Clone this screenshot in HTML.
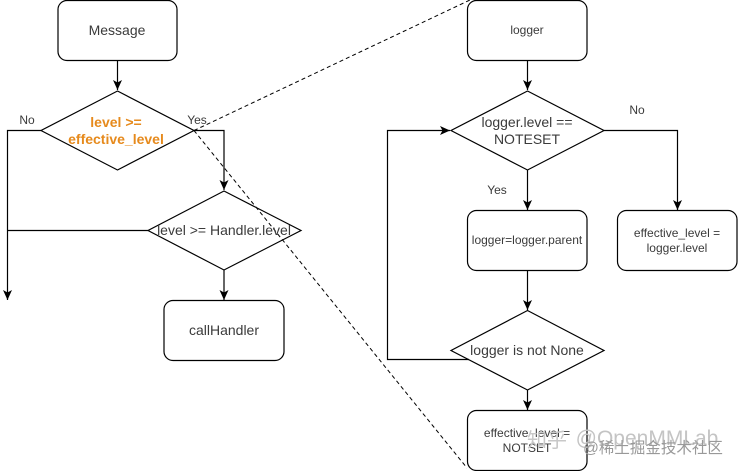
<!DOCTYPE html>
<html><head><meta charset="utf-8"><style>
html,body{margin:0;padding:0;background:#fff}
svg{display:block}
text{font-family:"Liberation Sans","Noto Sans CJK SC",sans-serif;fill:#3a3a3a;text-anchor:middle}
</style></head><body>
<svg width="738" height="471" viewBox="0 0 738 471" xmlns="http://www.w3.org/2000/svg">
<defs>
<marker id="a" markerWidth="12" markerHeight="12" refX="10" refY="5" orient="auto" markerUnits="userSpaceOnUse"><path d="M0 0.500L10 5L0 9.500L2.500 5Z" fill="#000"/></marker>
<filter id="b" filterUnits="userSpaceOnUse" x="0" y="0" width="738" height="471"><feGaussianBlur stdDeviation="0.3"/></filter>
</defs>
<g filter="url(#b)">
<g fill="none" stroke="#000" stroke-width="1.2">
<rect x="58" y="0.5" width="119" height="60" rx="9"/>
<rect x="164" y="300.5" width="120" height="60" rx="9"/>
<rect x="467.5" y="0.5" width="119.5" height="60" rx="9"/>
<rect x="467.5" y="210.5" width="119.5" height="60" rx="9"/>
<rect x="617.5" y="210.5" width="119.5" height="60" rx="9"/>
<rect x="467.5" y="410.5" width="119.5" height="60" rx="9"/>
<path d="M117.500 91L194 130.500L117.500 170L41 130.500Z"/>
<path d="M224 191L301 230.500L224 270L148 230.500Z"/>
<path d="M527.500 91L604 130.500L527.500 170L451 130.500Z"/>
<path d="M527.500 310.500L604 350.500L527.500 390L451 350.500Z"/>
<path d="M117.500 60.500V90" marker-end="url(#a)"/>
<path d="M194 130.500H224V190" marker-end="url(#a)"/>
<path d="M41 130.500H7.500V300" marker-end="url(#a)"/>
<path d="M148 230.500H7.500"/>
<path d="M224 270V300" marker-end="url(#a)"/>
<path d="M527.500 60.500V90" marker-end="url(#a)"/>
<path d="M527.500 170V210" marker-end="url(#a)"/>
<path d="M604 130.500H677.500V210" marker-end="url(#a)"/>
<path d="M527.500 270.500V310" marker-end="url(#a)"/>
<path d="M527.500 390V410" marker-end="url(#a)"/>
<path d="M469 359.500H387.500V130.500H450" marker-end="url(#a)"/>
<path d="M194 130.500L470 0" stroke-dasharray="4 3" stroke-width="1"/>
<path d="M194 130.500L467 468" stroke-dasharray="4 3" stroke-width="1"/>
</g>
<text x="117" y="35" font-size="14">Message</text>
<text x="27" y="124" font-size="12">No</text>
<text x="197" y="124" font-size="12">Yes</text>
<text x="116" y="127" font-size="14" font-weight="bold" style="fill:#e68a1e">level &gt;=</text>
<text x="116" y="144" font-size="14" font-weight="bold" style="fill:#e68a1e">effective_level</text>
<text x="224" y="235" font-size="14">level &gt;= Handler.level</text>
<text x="224" y="335" font-size="14">callHandler</text>
<text x="527" y="34" font-size="12">logger</text>
<text x="527" y="127" font-size="14">logger.level ==</text>
<text x="527" y="144" font-size="14">NOTESET</text>
<text x="637" y="114" font-size="12">No</text>
<text x="497" y="194" font-size="12">Yes</text>
<text x="527" y="244" font-size="12">logger=logger.parent</text>
<text x="677" y="237" font-size="12">effective_level =</text>
<text x="677" y="252" font-size="12">logger.level</text>
<text x="527" y="355" font-size="14">logger is not None</text>
<text x="527" y="437" font-size="12">effective_level =</text>
<text x="527" y="452" font-size="12">NOTSET</text>
<text x="547" y="447" font-size="20" style="fill:#c8c8c8">知乎</text>
<text x="647" y="445" font-size="21" style="fill:#c4c4c4">@OpenMMLab</text>
<text x="653" y="453" font-size="15.500" style="fill:#999">@稀土掘金技术社区</text>
</g>
</svg>
</body></html>
